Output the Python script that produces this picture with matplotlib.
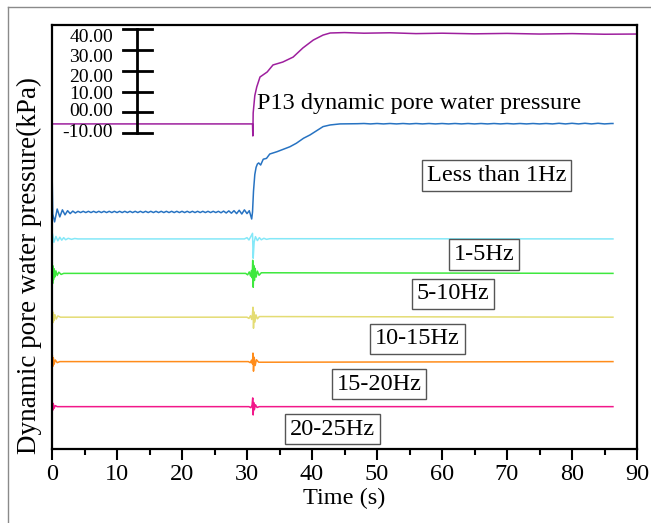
import numpy as np
import matplotlib
matplotlib.use("Agg")
import matplotlib.pyplot as plt
from matplotlib.lines import Line2D

plt.rcParams["font.family"] = ["Liberation Serif", "DejaVu Serif"]

# ---- data (kPa, each band drawn with its own vertical offset) ----
p13_t = [0, 30.85, 30.9, 30.95, 31.2, 31.5, 32.0, 33.1, 34.0, 35.5, 37.1, 38.6,
         40.2, 41.7, 42.8, 45, 48, 52, 56, 60, 65, 70, 75, 80, 85, 90]
p13_v = [-5.6, -5.6, -11.4, -0.3, 8.0, 12.2, 17.0, 19.4, 22.8, 24.2, 26.6, 31.0,
         34.8, 37.2, 38.2, 38.4, 38.1, 38.3, 37.9, 38.1, 37.8, 38.0, 37.7, 37.9, 37.6, 37.7]

low_head_t = [0, 0.12]
low_head_v = [-26.8, -49.0]
low_wiggle_t = np.linspace(0.4, 30.0, 75)
low_wiggle_v = [-52.8, -46.6, -50.4, -47.0, -49.4, -47.4, -48.8, -47.6, -48.5, -47.7,
                -48.3, -47.7, -48.3, -47.7, -48.3, -47.7, -48.3, -47.7, -48.3, -47.7,
                -48.3, -47.7, -48.3, -47.7, -48.3, -47.7, -48.3, -47.7, -48.3, -47.7,
                -48.3, -47.7, -48.3, -47.7, -48.3, -47.7, -48.3, -47.7, -48.3, -47.7,
                -48.3, -47.7, -48.3, -47.7, -48.3, -47.7, -48.3, -47.7, -48.3, -47.7,
                -48.3, -47.7, -48.3, -47.7, -48.3, -47.7, -48.3, -47.7, -48.3, -47.7,
                -48.3, -47.7, -48.3, -47.7, -48.4, -47.6, -48.5, -47.5, -48.6, -47.4,
                -48.8, -47.2, -49.0, -47.0, -48.8]
low_rise_t = [30.35, 30.72, 30.85, 31.0, 31.2, 31.4, 31.6, 31.8, 32.1, 32.5, 33.0, 33.5,
              34.6, 35.6, 36.6, 37.6, 38.7, 39.7, 40.7, 41.7, 42.8, 44.3, 47.0]
low_rise_v = [-47.4, -51.4, -48.0, -38.0, -30.0, -26.5, -24.9, -24.4, -25.4, -22.6, -22.2, -20.1,
              -19.0, -17.8, -16.6, -14.9, -12.5, -10.9, -8.9, -6.9, -6.1, -5.6, -5.5]
low_tail_t = np.arange(48, 87, 1.0)
low_tail_v = [-5.4, -5.6, -5.4, -5.6, -5.4, -5.6, -5.4, -5.6, -5.4, -5.6,
              -5.4, -5.6, -5.4, -5.6, -5.4, -5.6, -5.4, -5.6, -5.4, -5.6,
              -5.4, -5.6, -5.4, -5.6, -5.4, -5.6, -5.4, -5.6, -5.4, -5.6,
              -5.3, -5.6, -5.3, -5.6, -5.3, -5.6, -5.3, -5.6, -5.4]
low_end_t = [86.3]
low_end_v = [-5.4]

cyan_t = [0, 0.08, 0.3, 0.6, 0.9, 1.2, 1.5, 1.8, 2.1, 2.5, 3.0, 3.5, 4.0, 29.6, 30.0, 30.3,
          30.6, 30.85, 30.95, 31.1, 31.3, 31.6, 31.9, 32.2, 32.6, 33.0, 33.5, 86.3]
cyan_v = [-70.5, -58.5, -62.6, -59.8, -61.9, -60.2, -61.6, -60.4, -61.4, -60.7, -61.2, -60.8,
          -61.0, -61.0, -60.4, -61.5, -59.8, -58.3, -70.3, -62.5, -59.9, -61.8, -60.4, -61.4,
          -60.7, -61.2, -60.9, -61.0]

green_t = [0, 0.04, 0.1, 0.16, 0.24, 0.34, 0.46, 0.6, 0.8, 1.05, 1.4, 1.8,
           29.8, 30.1, 30.35, 30.55, 30.7, 30.8, 30.88, 30.96, 31.04, 31.14, 31.26,
           31.4, 31.6, 31.85, 32.2, 86.3]
green_v = [-84.3, -72.2, -82.5, -74.0, -80.6, -75.4, -79.3, -76.4, -78.6, -77.0, -78.1, -77.6,
           -77.6, -78.3, -76.9, -78.9, -76.2, -79.8, -71.3, -84.3, -73.8, -81.0, -75.2,
           -79.4, -76.5, -78.5, -77.3, -77.6]

yellow_t = [0, 0.05, 0.12, 0.2, 0.3, 0.45, 0.65, 0.9, 1.3, 30.0, 30.3, 30.55, 30.72,
            30.84, 30.92, 31.0, 31.1, 31.22, 31.38, 31.6, 31.9, 86.3]
yellow_v = [-102.5, -95.3, -101.4, -96.4, -100.4, -97.5, -99.6, -98.1, -98.7, -98.7, -99.3,
            -98.0, -99.8, -97.4, -93.9, -104.0, -96.2, -101.0, -97.6, -99.5, -98.4, -98.7]

orange_t = [0, 0.05, 0.12, 0.2, 0.32, 0.5, 0.8, 1.2, 30.2, 30.5, 30.7, 30.84, 30.92,
            31.0, 31.1, 31.25, 31.45, 31.8, 86.3]
orange_v = [-123.3, -117.0, -122.4, -118.2, -121.4, -119.3, -120.6, -120.1, -120.1, -120.6,
            -119.4, -121.2, -116.0, -124.7, -118.0, -122.0, -119.2, -120.4, -120.1]

pink_t = [0, 0.05, 0.12, 0.2, 0.32, 0.5, 0.8, 30.3, 30.6, 30.78, 30.88, 30.95, 31.03,
          31.13, 31.3, 31.55, 31.9, 86.3]
pink_v = [-144.4, -139.5, -143.5, -140.4, -142.6, -141.3, -141.8, -141.8, -142.3, -141.1,
          -137.6, -145.8, -139.8, -143.3, -140.9, -142.2, -141.8, -141.8]

band_labels = ["Less than 1Hz", "1-5Hz", "5-10Hz", "10-15Hz", "15-20Hz", "20-25Hz"]
scale_ticks = [40, 30, 20, 10, 0, -10]
scale_labels = ["40.00", "30.00", "20.00", "10.00", "00.00", "-10.00"]
x_ticks = list(range(0, 91, 10))

# ---- layout ----
label_pos = [(68.4, -30.4), (66.5, -68.5), (61.7, -87.5), (56.2, -109.2),
             (50.3, -130.9), (43.2, -152.6)]
scale_label_y = [36.0, 26.4, 16.8, 8.8, 0.6, -9.8]

fig = plt.figure(figsize=(6.51, 5.23), dpi=100)
ax = fig.add_axes([52 / 651, 1 - 449 / 523, 585 / 651, 424 / 523])

lw = 1.1
ax.plot(p13_t, p13_v, color="#9e1f9e", lw=lw)
low_t = np.concatenate([low_head_t, low_wiggle_t, low_rise_t, low_tail_t, low_end_t])
low_v = np.concatenate([low_head_v, low_wiggle_v, low_rise_v, low_tail_v, low_end_v])
ax.plot(low_t, low_v, color="#2773c2", lw=lw)
ax.plot(cyan_t, cyan_v, color="#84e8f8", lw=lw)
ax.plot(green_t, green_v, color="#3ee83e", lw=lw)
ax.plot(yellow_t, yellow_v, color="#e4dc74", lw=lw)
ax.plot(orange_t, orange_v, color="#ff8c1a", lw=lw)
ax.plot(pink_t, pink_v, color="#f2188a", lw=lw)

# scale bar
bar_x = 13.15
ax.plot([bar_x, bar_x], [scale_ticks[0], scale_ticks[-1]], color="black", lw=2)
for v, lab, ly in zip(scale_ticks, scale_labels, scale_label_y):
    ax.plot([10.97, 15.35], [v, v], color="black", lw=2)
    ax.text(9.4, ly, lab, ha="right", va="center", fontsize=14)

ax.text(31.5, 1.8, "P13 dynamic pore water pressure", ha="left", va="baseline",
        fontsize=17.5)

for lab, (x, y) in zip(band_labels, label_pos):
    ax.text(x, y, lab, ha="center", va="center", fontsize=17.5, zorder=5,
            bbox=dict(boxstyle="square,pad=0.2", fc="white", ec="#555555", lw=1))

ax.set_xlim(0, 90)
ax.set_ylim(-162.2, 42.05)
ax.set_xticks(x_ticks)
ax.set_xticklabels([str(t) for t in x_ticks])
ax.set_xticks(range(5, 90, 10), minor=True)
ax.set_yticks([])
ax.tick_params(axis="x", which="major", direction="out", length=8, width=1.5,
               labelsize=17.5, pad=3)
ax.tick_params(axis="x", which="minor", direction="out", length=4, width=1.5)
for s in ax.spines.values():
    s.set_linewidth(1.6)
ax.set_xlabel("Time (s)", fontsize=17.5, labelpad=2)

fig.text(29.5 / 651, 1 - 266 / 523, "Dynamic pore water pressure(kPa)", rotation=90,
         ha="center", va="center", fontsize=19.5)

# thin outer frame (top and left edges)
fig.add_artist(Line2D([8 / 651, 8 / 651], [0, 1 - 7 / 523], color="#8a8a8a", lw=1))
fig.add_artist(Line2D([8 / 651, 1], [1 - 7 / 523, 1 - 7 / 523], color="#8a8a8a", lw=1))

fig.savefig("out.png", dpi=100)
